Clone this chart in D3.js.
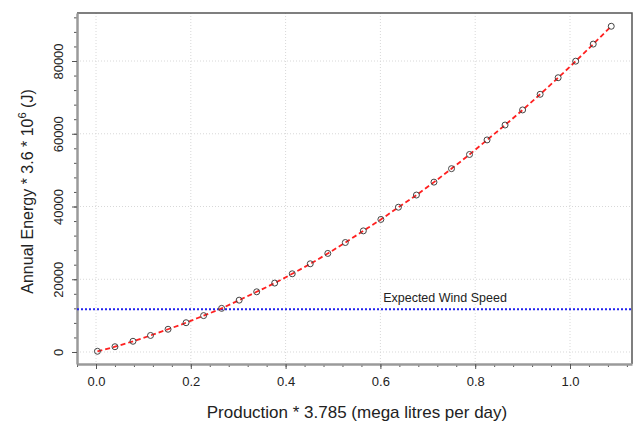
<!DOCTYPE html>
<html>
<head>
<meta charset="utf-8">
<script src="https://cdn.jsdelivr.net/npm/d3@7"></script>
<style>
  body { margin: 0; background: #fff; }
  svg text { font-family: "Liberation Sans", Arial, sans-serif; fill: #222; }
</style>
</head>
<body>
<div id="chart"></div>
<script>
// production (x) and annual energy (y)
var production = [0.003, 0.040, 0.078, 0.115, 0.152, 0.190, 0.227, 0.265, 0.302, 0.339,
                  0.377, 0.414, 0.452, 0.489, 0.526, 0.564, 0.601, 0.638, 0.676, 0.713,
                  0.750, 0.788, 0.825, 0.863, 0.900, 0.937, 0.975, 1.012, 1.049, 1.087];
var energy = [200, 1450, 2950, 4550, 6250, 8050, 10000, 12000, 14250, 16550,
              18950, 21500, 24250, 27100, 30100, 33300, 36450, 39800, 43150, 46700,
              50400, 54300, 58300, 62400, 66550, 70850, 75400, 79950, 84650, 89550];
var windSpeed = 11750;
var xTicks = [0, 0.2, 0.4, 0.6, 0.8, 1.0];
var yTicks = [0, 20000, 40000, 60000, 80000];
var xMinor = d3.range(-0.04, 1.13, 0.04);
var yMinor = d3.range(0, 93000, 4000);

var W = 638, H = 423;
var margin = {top: 13, right: 6, bottom: 59, left: 77};
var width = W - margin.left - margin.right,
    height = H - margin.top - margin.bottom;

var svg = d3.select('#chart').append('svg')
    .attr('width', W)
    .attr('height', H);
var g = svg.append('g')
    .attr('transform', 'translate(' + margin.left + ',' + margin.top + ')');

var x = d3.scaleLinear().domain([-0.0401, 1.1308]).range([0, width]);
var y = d3.scaleLinear().domain([-3299, 93196]).range([height, 0]);

// grid
g.append('g').selectAll('line').data(xTicks).enter().append('line')
    .attr('x1', function(d){ return x(d); }).attr('x2', function(d){ return x(d); })
    .attr('y1', 0).attr('y2', height)
    .attr('stroke', '#d8d8d8').attr('stroke-dasharray', '1,2');
g.append('g').selectAll('line').data(yTicks).enter().append('line')
    .attr('y1', function(d){ return y(d); }).attr('y2', function(d){ return y(d); })
    .attr('x1', 0).attr('x2', width)
    .attr('stroke', '#d8d8d8').attr('stroke-dasharray', '1,2');

// box top/right
g.append('path')
    .attr('d', 'M0,0H' + width + 'V' + height)
    .attr('fill', 'none').attr('stroke', '#555').attr('stroke-width', 1.5);

// minor ticks
g.append('g')
    .attr('transform', 'translate(0,' + height + ')')
    .call(d3.axisBottom(x).tickValues(xMinor).tickSize(3).tickFormat(''))
    .call(function(a){ a.select('.domain').remove(); a.selectAll('line').attr('stroke', '#555'); });
g.append('g')
    .call(d3.axisLeft(y).tickValues(yMinor).tickSize(3).tickFormat(''))
    .call(function(a){ a.select('.domain').remove(); a.selectAll('line').attr('stroke', '#555'); });

// major axes
var xAxis = g.append('g')
    .attr('transform', 'translate(0,' + height + ')')
    .call(d3.axisBottom(x).tickValues(xTicks).tickSize(5).tickSizeOuter(0)
        .tickFormat(d3.format('.1f')));
xAxis.select('.domain').attr('stroke', '#9a9a9a').attr('stroke-width', 2.5);
xAxis.selectAll('line').attr('stroke', '#555');
xAxis.selectAll('text')
    .style('font-size', '13px')
    .attr('y', 21.5).attr('dy', 0);

var yAxis = g.append('g')
    .call(d3.axisLeft(y).tickValues(yTicks).tickSize(5).tickSizeOuter(0)
        .tickFormat(d3.format('d')));
yAxis.select('.domain').attr('stroke', '#9a9a9a').attr('stroke-width', 2.5);
yAxis.selectAll('line').attr('stroke', '#555');
yAxis.selectAll('text')
    .style('font-size', '13px')
    .attr('transform', 'rotate(-90)')
    .attr('x', 0).attr('y', -14).attr('dy', 0)
    .attr('text-anchor', 'middle');

// expected wind speed
g.append('line')
    .attr('x1', 0).attr('x2', width)
    .attr('y1', y(windSpeed)).attr('y2', y(windSpeed))
    .attr('stroke', '#2222ee').attr('stroke-width', 1.8)
    .attr('stroke-dasharray', '2,2');
g.append('text')
    .attr('x', 445 - margin.left)
    .attr('y', y(windSpeed) - 7)
    .attr('text-anchor', 'middle')
    .style('font-size', '12.5px')
    .text('Expected Wind Speed');

// curve
var pts = production.map(function(d, i){ return {x: d, y: energy[i]}; });
var line = d3.line()
    .x(function(d){ return x(d.x); })
    .y(function(d){ return y(d.y); })
    .curve(d3.curveMonotoneX);
g.append('path')
    .datum(pts)
    .attr('d', line)
    .attr('fill', 'none')
    .attr('stroke', '#ff2020')
    .attr('stroke-width', 1.8)
    .attr('stroke-dasharray', '5,3');

g.selectAll('circle.pt').data(pts).enter().append('circle')
    .attr('class', 'pt')
    .attr('cx', function(d){ return x(d.x); })
    .attr('cy', function(d){ return y(d.y); })
    .attr('r', 3)
    .attr('fill', 'none')
    .attr('stroke', '#444')
    .attr('stroke-width', 1);

// axis labels
svg.append('text')
    .attr('x', 357).attr('y', 418)
    .attr('text-anchor', 'middle')
    .style('font-size', '17px')
    .text('Production * 3.785 (mega litres per day)');

var yl = svg.append('text')
    .attr('transform', 'translate(33,' + (margin.top + height / 2 + 3) + ') rotate(-90)')
    .attr('text-anchor', 'middle')
    .style('font-size', '16px');
yl.append('tspan').text('Annual Energy * 3.6 * 10');
yl.append('tspan').attr('dy', -7).style('font-size', '11px').text('6');
yl.append('tspan').attr('dy', 7).text(' (J)');
</script>
</body>
</html>
